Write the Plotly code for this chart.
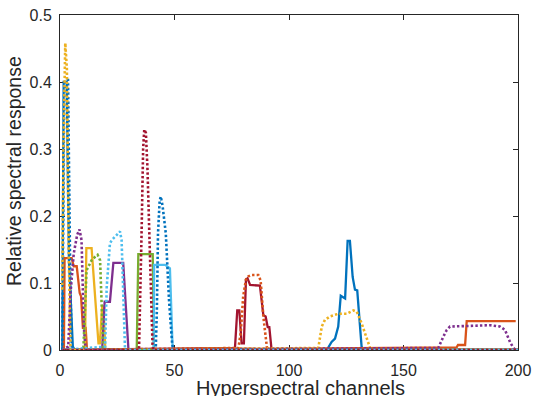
import plotly.graph_objects as go

# ---------------- data (channel, relative response) ----------------
blue_solid_x = [1, 1.6, 2.9, 3.9, 5.6, 6.5, 116.5, 118.6, 120.1, 121.5, 122.6, 124.5, 125.6, 126.6, 127.8, 128.8, 129.8, 131.7, 132.5, 200]
blue_solid_y = [0, 0.40, 0.40, 0.134, 0.005, 0, 0, 0.012, 0.017, 0.035, 0.081, 0.077, 0.163, 0.163, 0.109, 0.090, 0.089, 0.005, 0, 0]

orange_solid_x = [1, 1.7, 2.0, 5.1, 6.0, 7.3, 8.6, 9.2, 10.0, 11.2, 11.8, 164.5, 173.2, 173.8, 176.9, 177.6, 199]
orange_solid_y = [0, 0, 0.137, 0.137, 0.125, 0.125, 0.085, 0.080, 0.033, 0.033, 0, 0.003, 0.004, 0.0075, 0.0075, 0.043, 0.043]

yellow_solid_x = [1, 10.9, 11.5, 13.8, 16.8, 17.4, 18.4, 19.0, 19.8, 200]
yellow_solid_y = [0, 0, 0.152, 0.152, 0.010, 0.010, 0.065, 0.065, 0, 0]

purple_solid_x = [1, 18.4, 19.5, 21.8, 23.3, 27.6, 29.9, 200]
purple_solid_y = [0, 0, 0.072, 0.072, 0.130, 0.130, 0, 0]

green_solid_x = [1, 33.5, 34.2, 40.5, 41.0, 200]
green_solid_y = [0, 0, 0.143, 0.143, 0, 0]

lightblue_solid_x = [1, 40.9, 41.1, 45.9, 48.0, 49.2, 200]
lightblue_solid_y = [0, 0, 0.127, 0.127, 0.122, 0, 0]

red_solid_x = [1, 76.4, 77.4, 78.3, 79.3, 80.3, 81.2, 81.9, 83.0, 87.3, 88.8, 89.8, 90.7, 91.4, 92.4, 200]
red_solid_y = [0, 0.003, 0.059, 0.059, 0.010, 0.010, 0.105, 0.107, 0.097, 0.096, 0.052, 0.050, 0.034, 0.034, 0, 0]

blue_dot_x = [1, 1.8, 2.3, 3.5, 4.5, 5.2, 41.8, 42.3, 42.8, 43.5, 44.0, 44.8, 46.2, 47.6, 49.0, 49.7, 200]
blue_dot_y = [0, 0.38, 0.403, 0.403, 0.10, 0, 0, 0.06, 0.174, 0.222, 0.229, 0.215, 0.174, 0.075, 0.008, 0, 0]

orange_dot_x = [1, 77.9, 78.9, 80.0, 81.2, 82.3, 83.7, 86.6, 87.6, 88.8, 89.8, 90.5, 200]
orange_dot_y = [0, 0.003, 0.025, 0.080, 0.105, 0.110, 0.112, 0.112, 0.104, 0.050, 0.020, 0, 0]

yellow_dot_x = [1, 1.5, 2.3, 3.0, 3.8, 4.6, 112.8, 114.3, 115.7, 117.9, 121.5, 125.2, 128.1, 129.6, 131.7, 133.9, 135.4, 136.0, 200]
yellow_dot_y = [0.09, 0.30, 0.458, 0.42, 0.15, 0, 0.003, 0.035, 0.045, 0.050, 0.054, 0.054, 0.059, 0.057, 0.040, 0.017, 0.003, 0, 0]

purple_dot_x = [1, 3.6, 4.6, 6.0, 7.5, 8.5, 9.4, 9.7, 10.4, 11.2, 165.2, 167.4, 168.9, 170.3, 180.0, 187.8, 192.1, 194.3, 196.5, 198.0, 199.0, 200]
purple_dot_y = [0, 0.005, 0.085, 0.144, 0.172, 0.180, 0.164, 0.109, 0.035, 0, 0.003, 0.020, 0.030, 0.035, 0.036, 0.037, 0.035, 0.030, 0.012, 0.003, 0, 0]

green_dot_x = [1, 10.2, 11.6, 13.8, 15.3, 16.4, 17.5, 18.2, 18.9, 200]
green_dot_y = [0, 0, 0.119, 0.134, 0.139, 0.142, 0.134, 0.060, 0, 0]

lightblue_dot_x = [1, 19.7, 20.4, 21.8, 22.6, 24.0, 26.2, 26.9, 27.7, 28.4, 200]
lightblue_dot_y = [0, 0.005, 0.094, 0.159, 0.164, 0.169, 0.177, 0.164, 0.060, 0, 0]

red_dot_x = [1, 34.5, 35.6, 36.3, 36.8, 37.5, 38.2, 39.0, 39.7, 40.4, 40.7, 200]
red_dot_y = [0, 0, 0.17, 0.30, 0.329, 0.324, 0.27, 0.174, 0.075, 0.008, 0, 0]

x_ticks = [0, 50, 100, 150, 200]
y_ticks = [0, 0.1, 0.2, 0.3, 0.4, 0.5]
y_tick_labels = ["0", "0.1", "0.2", "0.3", "0.4", "0.5"]

# ---------------- styles ----------------
BLUE, ORANGE, YELLOW, PURPLE = "#0072BD", "#D95319", "#EDB120", "#7E2F8E"
GREEN, LBLUE, RED = "#77AC30", "#4DBEEE", "#A2142F"
AX = "#262626"
FONT = "Liberation Sans, Arial, Helvetica, sans-serif"

solid = [
    (blue_solid_x, blue_solid_y, BLUE),
    (orange_solid_x, orange_solid_y, ORANGE),
    (yellow_solid_x, yellow_solid_y, YELLOW),
    (purple_solid_x, purple_solid_y, PURPLE),
    (green_solid_x, green_solid_y, GREEN),
    (lightblue_solid_x, lightblue_solid_y, LBLUE),
    (red_solid_x, red_solid_y, RED),
]
dotted = [
    (blue_dot_x, blue_dot_y, BLUE),
    (orange_dot_x, orange_dot_y, ORANGE),
    (yellow_dot_x, yellow_dot_y, YELLOW),
    (purple_dot_x, purple_dot_y, PURPLE),
    (green_dot_x, green_dot_y, GREEN),
    (lightblue_dot_x, lightblue_dot_y, LBLUE),
    (red_dot_x, red_dot_y, RED),
]

fig = go.Figure()
for xs, ys, c in solid:
    fig.add_trace(go.Scatter(x=xs, y=ys, mode="lines",
                             line=dict(color=c, width=2.3), showlegend=False))
for xs, ys, c in dotted:
    fig.add_trace(go.Scatter(x=xs, y=ys, mode="lines",
                             line=dict(color=c, width=2.6, dash="2.4px,2.2px"), showlegend=False))

axis_common = dict(
    showline=True, linecolor=AX, linewidth=1, mirror="ticks",
    ticks="inside", ticklen=5, tickcolor=AX, tickwidth=1,
    showgrid=False, zeroline=False, automargin=False,
    tickfont=dict(family=FONT, size=16, color=AX),
    layer="below traces",
)

fig.update_layout(
    width=533, height=396, autosize=False,
    margin=dict(l=60, r=15, t=15, b=46),
    paper_bgcolor="white", plot_bgcolor="white",
    xaxis=dict(range=[0, 200], tickvals=x_ticks, ticklabelstandoff=6, **axis_common),
    yaxis=dict(range=[0, 0.5], tickvals=y_ticks, ticktext=y_tick_labels,
               ticklabelstandoff=4, **axis_common),
    annotations=[
        dict(text="Hyperspectral channels", xref="paper", yref="paper",
             x=0.525, y=-0.114, xanchor="center", yanchor="middle", showarrow=False,
             font=dict(family=FONT, size=20, color=AX)),
        dict(text="Relative spectral response", xref="paper", yref="paper",
             x=-0.1, y=0.535, xanchor="center", yanchor="middle", showarrow=False,
             textangle=-90, font=dict(family=FONT, size=19.5, color=AX)),
    ],
)

fig.write_html("out.html", config={"displayModeBar": False},
               post_script="document.body.style.margin='0';document.body.style.overflow='hidden';")
